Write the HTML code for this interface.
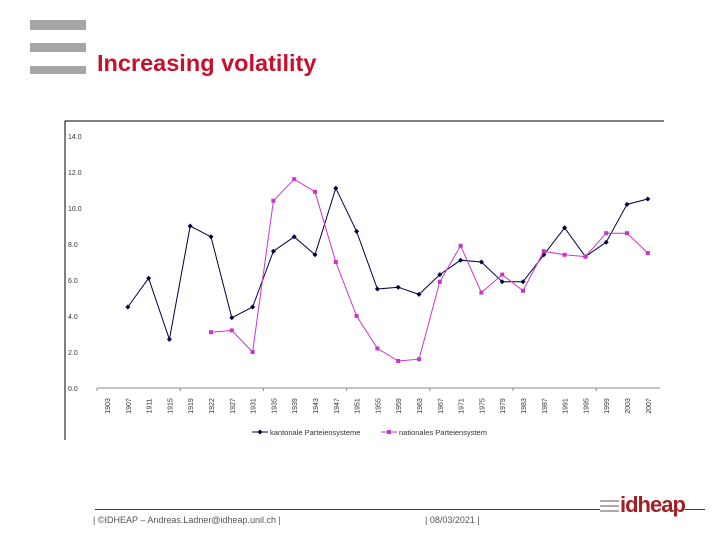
<!DOCTYPE html>
<html><head><meta charset="utf-8"><style>
body{margin:0;background:#fff;width:720px;height:540px;overflow:hidden;font-family:"Liberation Sans",sans-serif;position:relative}
.bar{position:absolute;left:30px;width:56px;background:#a6a6a6}
</style></head><body>
<div class="bar" style="top:20px;height:10px"></div>
<div class="bar" style="top:43px;height:9px"></div>
<div class="bar" style="top:66px;height:8px"></div>
<div style="position:absolute;left:97px;top:50px;font-size:23.5px;font-weight:bold;color:#c8102e">Increasing volatility</div>
<svg id="chart" width="720" height="540" style="position:absolute;left:0;top:0"></svg>
<div style="position:absolute;left:95px;top:509px;width:505px;height:1px;background:#8b1a1a"></div>
<div style="position:absolute;left:685px;top:509px;width:20px;height:1px;background:#8b1a1a"></div>
<div style="position:absolute;left:93px;top:515px;font-size:9px;color:#555">| ©IDHEAP – Andreas.Ladner@idheap.unil.ch |</div>
<div style="position:absolute;left:425px;top:515px;font-size:9px;color:#555">| 08/03/2021 |</div>
<div style="position:absolute;left:600px;top:492px;width:90px;height:30px">
 <div style="position:absolute;left:0;top:8px;width:19px;height:2px;background:#aaa"></div>
 <div style="position:absolute;left:0;top:13px;width:19px;height:2px;background:#aaa"></div>
 <div style="position:absolute;left:0;top:18px;width:19px;height:2px;background:#aaa"></div>
 <div style="position:absolute;left:20px;top:0px;font-size:22px;font-weight:bold;color:#a31f24;letter-spacing:-1px">idheap</div>
</div>
<script>
const years=["1903","1907","1911","1915","1919","1922","1927","1931","1935","1939","1943","1947","1951","1955","1959","1963","1967","1971","1975","1979","1983","1987","1991","1995","1999","2003","2007"];
const kantonal=[null,4.5,6.1,2.7,9.0,8.4,3.9,4.5,7.6,8.4,7.4,11.1,8.7,5.5,5.6,5.2,6.3,7.1,7.0,5.9,5.9,7.4,8.9,7.3,8.1,10.2,10.5];
const national=[null,null,null,null,null,3.1,3.2,2.0,10.4,11.6,10.9,7.0,4.0,2.2,1.5,1.6,5.9,7.9,5.3,6.3,5.4,7.6,7.4,7.3,8.6,8.6,7.5];
const yTicks=[0,2,4,6,8,10,12,14];
const svg=document.getElementById('chart');const NS='http://www.w3.org/2000/svg';
function mk(t,a,p){const e=document.createElementNS(NS,t);for(const k in a)e.setAttribute(k,a[k]);(p||svg).appendChild(e);return e;}
const x=i=>107+i*20.8, y=v=>388-v*18;
let f=mk('path',{d:'M65,440 V121 H664',fill:'none',stroke:'#000','stroke-width':1});

yTicks.forEach(v=>{const t=mk('text',{x:68,y:y(v)+3,'font-size':7,fill:'#333'});t.textContent=v.toFixed(1);
});
let ax=mk('line',{x1:97,x2:660,y1:388,y2:388,stroke:'#888'});

years.forEach((yr,i)=>{const t=mk('text',{transform:`translate(${x(i)+3},${406}) rotate(-90)`,'font-size':7,fill:'#333','text-anchor':'middle'});t.textContent=yr;

if(i%4===0){const l=mk('line',{x1:x(i)-10,x2:x(i)-10,y1:388,y2:391,stroke:'#888'});}});
function series(data,color,sq,name){let d='';data.forEach((v,i)=>{if(v==null)return;d+=(d?'L':'M')+x(i)+','+y(v);});
const p=mk('path',{d,fill:'none',stroke:color,'stroke-width':1});
data.forEach((v,i)=>{if(v==null)return;const m=sq?mk('rect',{x:x(i)-2,y:y(v)-2,width:4,height:4,fill:color}):mk('path',{d:`M${x(i)},${y(v)-2.5}l2.5,2.5l-2.5,2.5l-2.5,-2.5z`,fill:color});
});}
series(kantonal,'#000040',false,'kantonal');
series(national,'#cc33cc',true,'national');
let g=mk('g',{});
mk('line',{x1:252,x2:268,y1:432,y2:432,stroke:'#000040'},g);mk('path',{d:'M260,429.5l2.5,2.5l-2.5,2.5l-2.5,-2.5z',fill:'#000040'},g);
let t1=mk('text',{x:270,y:435,'font-size':7.5,fill:'#333'},g);t1.textContent='kantonale Parteiensysteme';
mk('line',{x1:381,x2:397,y1:432,y2:432,stroke:'#cc33cc'},g);mk('rect',{x:387,y:430,width:4,height:4,fill:'#cc33cc'},g);
let t2=mk('text',{x:399,y:435,'font-size':7.5,fill:'#333'},g);t2.textContent='nationales Parteiensystem';
</script>
</body></html>
